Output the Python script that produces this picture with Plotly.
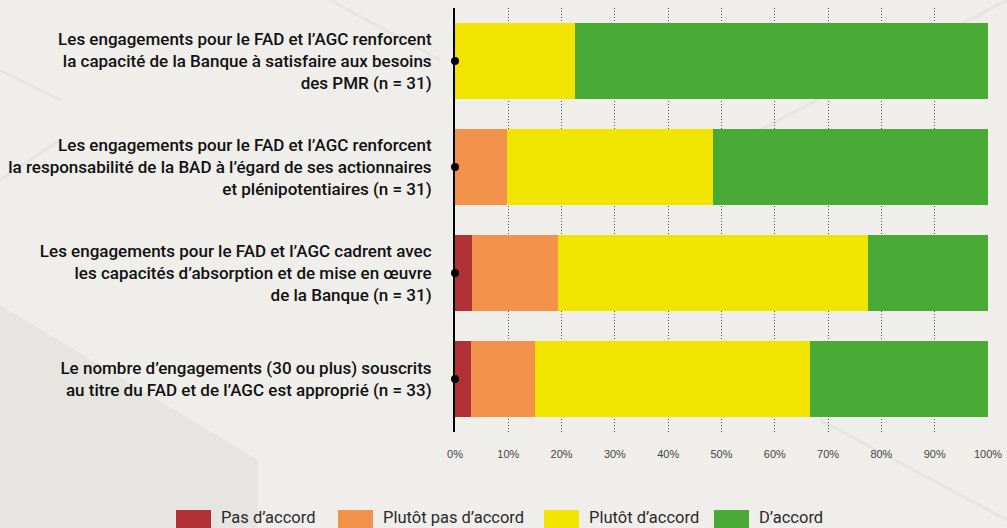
import plotly.graph_objects as go

# ---- data ----
categories = [
    "Les engagements pour le FAD et l’AGC renforcent<br>la capacité de la Banque à satisfaire aux besoins<br>des PMR (n = 31)",
    "Les engagements pour le FAD et l’AGC renforcent<br>la responsabilité de la BAD à l’égard de ses actionnaires<br>et plénipotentiaires (n = 31)",
    "Les engagements pour le FAD et l’AGC cadrent avec<br>les capacités d’absorption et de mise en œuvre<br>de la Banque (n = 31)",
    "Le nombre d’engagements (30 ou plus) souscrits<br>au titre du FAD et de l’AGC est approprié (n = 33)",
]
series_names = ["Pas d’accord", "Plutôt pas d’accord", "Plutôt d’accord", "D’accord"]
pas_accord = [0.0, 0.0, 3.2, 3.0]
plutot_pas_accord = [0.0, 9.7, 16.1, 12.1]
plutot_accord = [22.6, 38.7, 58.1, 51.5]
accord = [77.4, 51.6, 22.6, 33.4]
tick_values = [0, 10, 20, 30, 40, 50, 60, 70, 80, 90, 100]
tick_labels = ["0%", "10%", "20%", "30%", "40%", "50%", "60%", "70%", "80%", "90%", "100%"]

series_values = [pas_accord, plutot_pas_accord, plutot_accord, accord]
colors = ["#b03236", "#f3924a", "#f0e400", "#49aa35"]

W, H = 1007, 528
L, R, T, B = 455, 988, 8, 432
LABEL_FONT = "Roboto, Liberation Sans, sans-serif"


def px(x):
    return (x - L) / (R - L)


def py(y):
    return (B - y) / (B - T)


fig = go.Figure()
for name, vals, col in zip(series_names, series_values, colors):
    fig.add_trace(go.Bar(
        y=categories, x=vals, name=name, orientation="h",
        marker=dict(color=col, line=dict(width=0)),
        showlegend=False, hoverinfo="x+name",
    ))

fig.add_trace(go.Scatter(
    x=[0] * len(categories), y=categories, mode="markers",
    marker=dict(color="black", size=8), cliponaxis=False,
    showlegend=False, hoverinfo="skip",
))

shapes = []
# subtle background decoration
shapes.append(dict(type="path", xref="paper", yref="paper", layer="below",
                   path=f"M {px(0)},{py(305)} L {px(258)},{py(460)} L {px(258)},{py(528)} L {px(0)},{py(528)} Z",
                   fillcolor="#e6e5e1", line=dict(width=0)))
for (x0, y0, x1, y1) in [(330, 0, 440, 60), (0, 70, 60, 100), (760, 130, 1007, 0), (820, 420, 1007, 520), (0, 180, 60, 140)]:
    shapes.append(dict(type="line", xref="paper", yref="paper", layer="below",
                       x0=px(x0), y0=py(y0), x1=px(x1), y1=py(y1),
                       line=dict(color="#e6e5e1", width=3)))

# manual legend
legend_sq = [176, 338, 544, 714]
annotations = []
for name, col, x0 in zip(series_names, colors, legend_sq):
    shapes.append(dict(type="rect", xref="paper", yref="paper",
                       x0=px(x0), x1=px(x0 + 35), y0=py(510), y1=py(530),
                       fillcolor=col, line=dict(width=0)))
    annotations.append(dict(xref="paper", yref="paper", x=px(x0 + 43), y=py(517),
                            text=name, showarrow=False, xanchor="left", yanchor="middle",
                            font=dict(family=LABEL_FONT, size=16.5, color="#2a2a2a")))

fig.update_layout(
    width=W, height=H,
    barmode="stack", bargap=0.274,
    paper_bgcolor="#efeeeb", plot_bgcolor="rgba(0,0,0,0)",
    margin=dict(l=L, r=W - R, t=T, b=H - B, autoexpand=False),
    shapes=shapes, annotations=annotations,
    font=dict(family=LABEL_FONT),
)
fig.update_xaxes(
    range=[0, 100], tickmode="array", tickvals=tick_values, ticktext=tick_labels,
    showgrid=True, gridcolor="#555555", griddash="1px,2px", gridwidth=1,
    zeroline=False, showline=False, ticks="", automargin=False,
    tickfont=dict(family="Liberation Sans, Arial, sans-serif", size=11, color="#444444"),
    ticklabelstandoff=14,
)
fig.update_yaxes(
    categoryorder="array", categoryarray=categories, range=[3.5, -0.5],
    showline=True, linecolor="black", linewidth=2, showgrid=False, ticks="",
    ticklabelstandoff=18, automargin=False,
    tickfont=dict(family=LABEL_FONT, size=17, color="#111111", weight=500),
)

fig.write_html("out.html", config={"displayModeBar": False},
               post_script="document.body.style.margin='0';")
